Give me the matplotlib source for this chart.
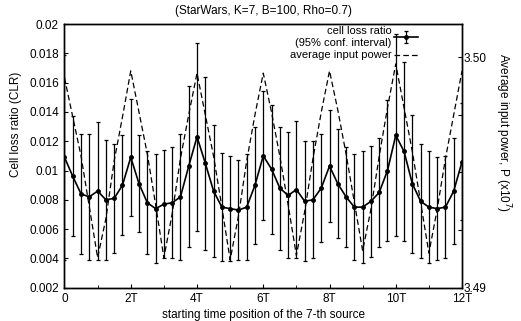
import numpy as np
import matplotlib
matplotlib.use("Agg")
import matplotlib.pyplot as plt

plt.rcParams['font.family'] = ['Liberation Sans', 'DejaVu Sans']

# x positions in units of T (every T/4 from 0 to 12T)
t = np.arange(49) / 4.0

clr = [0.0109, 0.0096, 0.0084, 0.0082, 0.0086, 0.0080, 0.0081, 0.0090,
       0.0109, 0.0091, 0.0078, 0.0074, 0.0077, 0.0078, 0.0082, 0.0103,
       0.0123, 0.0105, 0.0086, 0.0075, 0.0074, 0.0073, 0.0075, 0.0090,
       0.0110, 0.0101, 0.0088, 0.0083, 0.0087, 0.0079, 0.0080, 0.0088,
       0.0103, 0.0091, 0.0082, 0.0075, 0.0075, 0.0079, 0.0085, 0.0100,
       0.0124, 0.0113, 0.0091, 0.0079, 0.0075, 0.0074, 0.0075, 0.0086,
       0.0106]

clr_err = [0.0070, 0.0041, 0.0041, 0.0043, 0.0047, 0.0041, 0.0037, 0.0034,
           0.0040, 0.0033, 0.0035, 0.0037, 0.0037, 0.0038, 0.0043, 0.0055,
           0.0064, 0.0059, 0.0045, 0.0037, 0.0036, 0.0034, 0.0036, 0.0040,
           0.0044, 0.0044, 0.0042, 0.0043, 0.0047, 0.0041, 0.0040, 0.0037,
           0.0038, 0.0037, 0.0034, 0.0036, 0.0038, 0.0038, 0.0037, 0.0048,
           0.0069, 0.0061, 0.0047, 0.0039, 0.0038, 0.0035, 0.0035, 0.0036,
           0.0040]

power = [3.4991, 3.4974, 3.4957, 3.4935, 3.4913, 3.4930, 3.4955, 3.4974,
         3.4994, 3.4976, 3.4958, 3.4936, 3.4913, 3.4932, 3.4956, 3.4975,
         3.4993, 3.4975, 3.4957, 3.4935, 3.4912, 3.4931, 3.4955, 3.4975,
         3.4993, 3.4976, 3.4957, 3.4936, 3.4914, 3.4933, 3.4956, 3.4976,
         3.4994, 3.4977, 3.4958, 3.4937, 3.4916, 3.4934, 3.4957, 3.4978,
         3.4997, 3.4978, 3.4959, 3.4937, 3.4915, 3.4934, 3.4956, 3.4975,
         3.4994]

xticks = [0, 2, 4, 6, 8, 10, 12]
xticklabels = ['0', '2T', '4T', '6T', '8T', '10T', '12T']
yticks = [0.002, 0.004, 0.006, 0.008, 0.01, 0.012, 0.014, 0.016, 0.018, 0.02]
yticklabels = ['0.002', '0.004', '0.006', '0.008', '0.01', '0.012', '0.014',
               '0.016', '0.018', '0.02']

fig = plt.figure(figsize=(5.21, 3.21), dpi=100)
ax = fig.add_axes([0.1238, 0.1037, 0.7630, 0.8215])

eb = ax.errorbar(t, clr, yerr=clr_err, color='black', lw=1.2, elinewidth=0.9,
                 capsize=1.5, capthick=0.9, marker='o', ms=2.5)
ax.set_xlim(0, 12)
ax.set_ylim(0.002, 0.02)
ax.set_xticks(xticks)
ax.set_xticklabels(xticklabels)
ax.set_xticks([1, 3, 5, 7, 9, 11], minor=True)
ax.set_yticks(yticks)
ax.set_yticklabels(yticklabels)
ax.tick_params(direction='in', labelsize=8.5, length=3, pad=4)
ax.tick_params(which='minor', direction='in', length=2)
ax.set_xlabel('starting time position of the 7-th source', fontsize=8.5, labelpad=3)
ax.set_ylabel('Cell loss ratio (CLR)', fontsize=8.5)
ax.yaxis.set_label_coords(-0.108, 0.62)

ax2 = ax.twinx()
ln, = ax2.plot(t, power, color='black', lw=0.9, ls=(0, (4.5, 2.5)))
ax2.set_ylim(3.49, 3.50143)
ax2.set_yticks([3.49, 3.4925, 3.495, 3.4975, 3.50])
ax2.set_yticklabels(['3.49', '', '', '', '3.50'])
ax2.tick_params(direction='in', labelsize=8.5, length=3, pad=1)
ax2.set_ylabel('Average input power, P (x10$^7$)', fontsize=8.5, rotation=270)
ax2.yaxis.set_label_coords(1.128, 0.59)

for a in (ax, ax2):
    for s in a.spines.values():
        s.set_linewidth(1.0)

leg = ax2.legend([eb, ln], ['cell loss ratio\n(95% conf. interval)', 'average input power'],
                 loc='upper right', bbox_to_anchor=(0.915, 1.03), frameon=False,
                 markerfirst=False, fontsize=8, handlelength=2.2, handletextpad=0.2,
                 labelspacing=0.25)
for txt in leg.get_texts():
    txt.set_multialignment('right')

fig.text(0.505, 0.965, '(StarWars, K=7, B=100, Rho=0.7)', ha='center',
         va='center', fontsize=8.5)

fig.savefig('out.png', dpi=100)
